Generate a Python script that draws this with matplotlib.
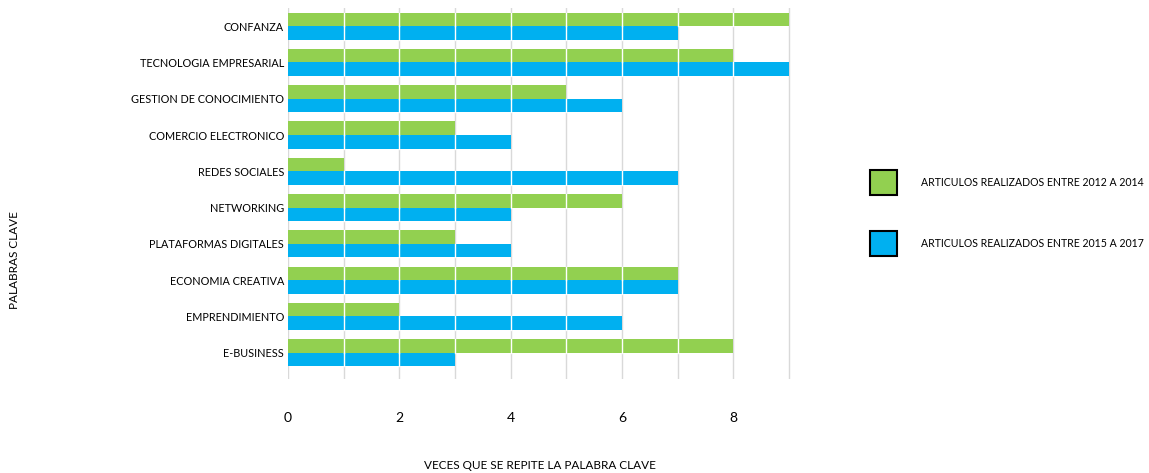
import numpy as np
import matplotlib.pyplot as plt
from matplotlib.patches import Rectangle

# datos (de arriba hacia abajo)
categorias = ["CONFANZA", "TECNOLOGIA EMPRESARIAL", "GESTION DE CONOCIMIENTO",
              "COMERCIO ELECTRONICO", "REDES SOCIALES", "NETWORKING",
              "PLATAFORMAS DIGITALES", "ECONOMIA CREATIVA", "EMPRENDIMIENTO",
              "E-BUSINESS"]
articulos_2012_2014 = [9, 8, 5, 3, 1, 6, 3, 7, 2, 8]
articulos_2015_2017 = [7, 9, 6, 4, 7, 4, 4, 7, 6, 3]
etiquetas_x = [0, 2, 4, 6, 8]
nombres_series = ["ARTICULOS REALIZADOS ENTRE 2012 A 2014",
                  "ARTICULOS REALIZADOS ENTRE 2015 A 2017"]

VERDE = "#92D050"
AZUL = "#00B0F0"

plt.rcParams['font.family'] = ['Lato', 'DejaVu Sans']

fig = plt.figure(figsize=(11.49, 4.73), dpi=100)
ax = fig.add_axes([0.2507, 0.199, 0.689 - 0.2507, 0.784])

n = len(categorias)
y = np.arange(n)[::-1]
alto = 0.375

ax.barh(y + alto / 2, articulos_2012_2014, height=alto, color=VERDE, zorder=2)
ax.barh(y - alto / 2, articulos_2015_2017, height=alto, color=AZUL, zorder=2)

# lineas blancas de la cuadricula que cruzan las barras
for yi, v1, v2 in zip(y, articulos_2012_2014, articulos_2015_2017):
    for xv in range(1, v1):
        ax.plot([xv, xv], [yi, yi + alto], color="white", lw=1, zorder=3)
    for xv in range(1, v2):
        ax.plot([xv, xv], [yi - alto, yi], color="white", lw=1, zorder=3)

ax.set_xlim(0, 9.05)
ax.set_ylim(-0.72, n - 0.5)
ax.set_xticks(etiquetas_x)
ax.set_xticks(range(0, 10), minor=True)
ax.set_xticklabels([str(v) for v in etiquetas_x], fontsize=10)
ax.tick_params(axis='x', which='both', length=0, pad=24)
ax.set_yticks(y)
ax.set_yticklabels(categorias, fontsize=7.8)
ax.tick_params(axis='y', length=0, pad=3)
ax.grid(axis='x', which='both', color="#d9d9d9", lw=1, zorder=0)
ax.set_axisbelow(True)
for s in ax.spines.values():
    s.set_visible(False)

fig.text(0.47, 0.016, "VECES QUE SE REPITE LA PALABRA CLAVE", fontsize=8.5,
         ha='center', va='center')
fig.text(0.013, 0.45, "PALABRAS CLAVE", rotation=90, fontsize=8.5,
         ha='center', va='center')

# leyenda a mano
for color, nombre, y0 in zip([VERDE, AZUL], nombres_series, [0.588, 0.459]):
    fig.add_artist(Rectangle((0.757, y0), 0.0235, 0.0535, facecolor=color,
                             edgecolor="black", lw=1.5,
                             transform=fig.transFigure))
    fig.text(0.8016, y0 + 0.027, nombre, fontsize=7.6, ha='left', va='center')

fig.savefig("out.png", dpi=100)
